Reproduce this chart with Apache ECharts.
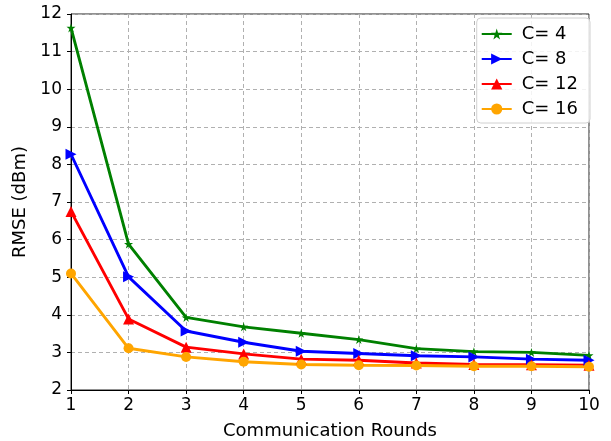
<!DOCTYPE html>
<html><head><meta charset="utf-8">
<script src="https://cdn.jsdelivr.net/npm/echarts@6/dist/echarts.min.js"></script>
<style>html,body{margin:0;padding:0;background:#fff}#c{width:611px;height:441px}</style>
</head><body><div id="c"></div>
<script>
var rounds = [1,2,3,4,5,6,7,8,9,10];
var c4  = [11.63,5.88,3.93,3.68,3.51,3.34,3.10,3.02,3.00,2.92];
var c8  = [8.27,5.01,3.57,3.27,3.03,2.97,2.91,2.88,2.82,2.79];
var c12 = [6.75,3.89,3.14,2.96,2.82,2.79,2.72,2.68,2.67,2.66];
var c16 = [5.10,3.11,2.88,2.75,2.68,2.66,2.65,2.63,2.63,2.62];
var seriesNames = ['C= 4','C= 8','C= 12','C= 16'];
var yTicks = [2,3,4,5,6,7,8,9,10,11,12];

var star = 'path://M50,0 L61,35 L98,35 L68,57 L79,91 L50,70 L21,91 L32,57 L2,35 L39,35 Z';
function pts(arr){ return rounds.map(function(r,i){return [r,arr[i]];}); }
var font = 'DejaVu Sans';
function mk(name, data, color, symbol, size, rot){
  return {name:name, type:'line', data:pts(data), symbol:symbol, symbolSize:size, symbolRotate:rot||0,
    showSymbol:true, lineStyle:{color:color,width:2.9}, itemStyle:{color:color,borderWidth:0}, z:3, animation:false};
}
var chart = echarts.init(document.getElementById('c'));
chart.setOption({
  animation:false,
  textStyle:{fontFamily:font},
  grid:{left:71,right:22,top:14,bottom:51,outerBoundsMode:'none',containLabel:false,show:true,borderColor:'#222',borderWidth:1,backgroundColor:'transparent'},
  legend:{
    orient:'vertical', right:21, top:18, itemWidth:30, itemHeight:14, itemGap:7,
    padding:[7,12,5,4], borderColor:'#d0d0d0', borderWidth:1, borderRadius:4, backgroundColor:'rgba(255,255,255,0.85)',
    textStyle:{fontFamily:font,fontSize:18,color:'#000',padding:[0,0,0,5]}, data:seriesNames
  },
  xAxis:{type:'value',min:1,max:10,interval:1,
    name:'Communication Rounds',nameLocation:'middle',nameGap:32,nameTextStyle:{fontFamily:font,fontSize:18,color:'#000'},
    axisLine:{show:true,lineStyle:{color:'#000',width:1}},
    axisTick:{show:true,length:4,lineStyle:{color:'#000'}},
    axisLabel:{fontFamily:font,fontSize:17,color:'#000',margin:7},
    splitLine:{show:true,lineStyle:{color:'#b0b0b0',type:[4,3],width:1}}},
  yAxis:{type:'value',min:2,max:12,interval:1,
    name:'RMSE (dBm)',nameLocation:'middle',nameGap:39,nameTextStyle:{fontFamily:font,fontSize:18,color:'#000'},
    axisLine:{show:true,lineStyle:{color:'#000',width:1}},
    axisTick:{show:true,length:4,lineStyle:{color:'#000'}},
    axisLabel:{fontFamily:font,fontSize:17,color:'#000',margin:9,
      formatter:function(v){return yTicks.indexOf(v)>=0?String(v):'';}},
    splitLine:{show:true,lineStyle:{color:'#b0b0b0',type:[4,3],width:1}}},
  series:[
    mk(seriesNames[0],c4,'#008000',star,9,0),
    mk(seriesNames[1],c8,'#0000ff','triangle',11,-90),
    mk(seriesNames[2],c12,'#ff0000','triangle',11,0),
    mk(seriesNames[3],c16,'#ffa500','circle',10,0)
  ]
});
</script></body></html>
